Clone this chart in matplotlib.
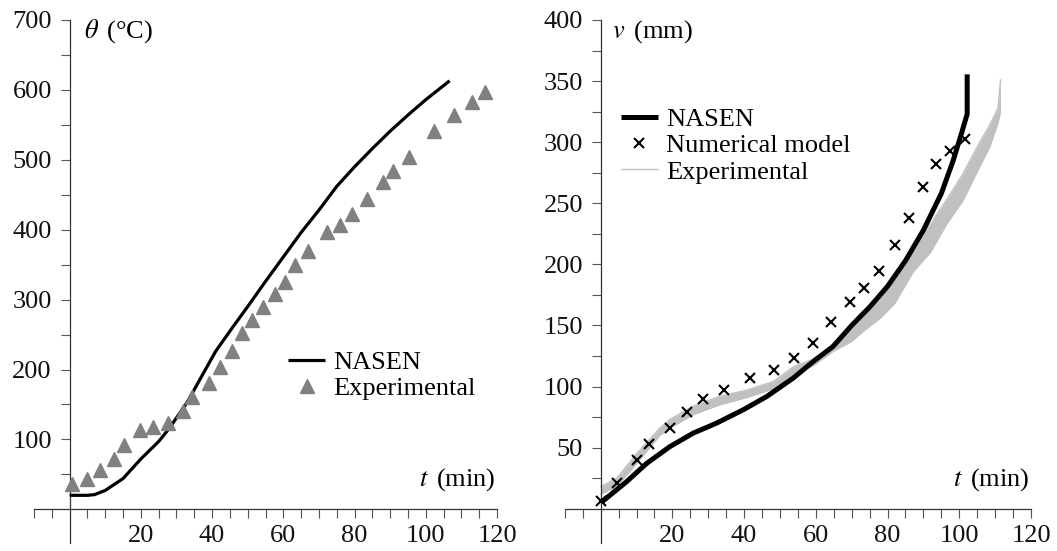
import matplotlib
matplotlib.use("Agg")
import matplotlib.pyplot as plt
from matplotlib.ticker import FixedLocator

plt.rcParams['font.family'] = ['Liberation Serif', 'DejaVu Serif']
plt.rcParams['mathtext.fontset'] = 'stix'

# ---------------- data: left panel (temperature) ----------------
nasen_t1 = [0, 5, 7, 10, 15, 20, 25, 28, 33, 36.5, 41, 46, 50, 55, 60, 65, 70, 75, 80, 85, 90, 95, 100, 106.7]
nasen_theta = [20, 20, 21, 27, 44, 72, 97, 116, 153, 185, 226, 262, 290, 326, 361, 396, 428, 462, 490,
               516, 541, 564, 586, 613]

exp_t1 = [0.8, 5.0, 8.5, 12.5, 15.2, 19.7, 23.4, 27.5, 31.7, 34.5, 39.1, 42.3, 45.5, 48.3, 51.1, 54.2,
          57.8, 60.6, 63.4, 66.8, 72.4, 75.9, 79.4, 83.4, 88.1, 90.9, 95.4, 102.2, 107.8, 113.0, 116.5]
exp_theta = [36, 43, 56, 72, 91.5, 114, 118, 124, 141, 160, 180, 203, 226, 252, 271, 290,
             308, 325, 349, 370, 396, 407, 423, 444, 468, 484, 504, 541, 564, 582, 597]

# ---------------- data: right panel (deflection) ----------------
nasen_t2 = [0.3, 7.2, 12.8, 19.3, 25.8, 32.3, 39.8, 46.3, 53.7, 59.3, 64.8, 70, 75, 80, 85, 90,
            95, 98.3, 100.6, 102.2, 102.2]
nasen_v = [5.5, 22, 37, 50.8, 61.8, 70, 81, 91.8, 106.9, 120.5, 132.8, 150, 165, 182, 203, 228,
           258, 285, 307, 323, 355.5]

num_t = [0, 4.5, 10.1, 13.5, 19.3, 24, 28.6, 34.5, 41.7, 48.3, 53.8, 59.1, 64.1, 69.4, 73.5, 77.5,
         82, 86, 90, 93.4, 97.4, 101.6]
num_v = [6, 21, 39.5, 53, 66.3, 79, 89.5, 97.5, 107, 113.4, 123.5, 135.5, 153, 169, 180.8, 194.7,
         216, 238, 263.5, 282.5, 292.6, 303]

band_t = [0, 4.5, 10, 16.5, 19.3, 25.8, 33.2, 40.7, 48.1, 53.7, 59.3, 64.8, 70, 74, 78, 82, 87.2,
          92, 96.5, 101, 105.7, 108.5, 110.8, 111.5]
band_lo = [12, 18, 37, 60, 66, 77, 85, 91, 98, 110, 117, 128.7, 137, 147, 156, 168, 194,
           210, 233, 252, 280, 296, 316, 325]
band_hi = [18, 25, 45, 66, 73, 84, 92, 97, 104, 116, 122.5, 134, 148, 162, 176, 190, 213,
           233, 253, 274, 300, 314, 328, 351]

x_major = [20, 40, 60, 80, 100, 120]

FS = 19
W, H = 1057, 551
fig = plt.figure(figsize=(W / 100, H / 100), dpi=100)
fig.patch.set_facecolor('white')

ax1 = fig.add_axes([34 / W, 8 / H, 463 / W, 523 / H])
ax2 = fig.add_axes([564.8 / W, 8 / H, 466.2 / W, 523 / H])


def style(ax, ylim, ymaj, ymin):
    ax.set_xlim(-10, 120)
    ax.set_ylim(*ylim)
    for s in ('top', 'right'):
        ax.spines[s].set_visible(False)
    ax.spines['left'].set_position(('data', 0))
    ax.spines['bottom'].set_position(('data', 0))
    for s in ('left', 'bottom'):
        ax.spines[s].set_color('#333333')
        ax.spines[s].set_linewidth(0.9)
    ax.xaxis.set_major_locator(FixedLocator(x_major))
    ax.xaxis.set_minor_locator(FixedLocator([v for v in range(-10, 121, 5) if v not in x_major and v != 0]))
    ax.yaxis.set_major_locator(FixedLocator(ymaj))
    ax.yaxis.set_minor_locator(FixedLocator(ymin))
    ax.tick_params(axis='both', which='both', direction='out', color='#555555', width=0.8,
                   labelsize=FS, labelcolor='#111111')
    ax.tick_params(axis='x', which='both', length=6.5, pad=5)
    ax.tick_params(axis='y', which='both', length=6.3, pad=6.5)
    ax.set_xticklabels([str(v) for v in x_major])
    ax.set_yticklabels([str(v) for v in ymaj])


style(ax1, (-48.2, 700), list(range(100, 701, 100)), list(range(50, 651, 100)))
style(ax2, (-28.1, 400), list(range(50, 401, 50)), list(range(25, 376, 50)))

# left panel
l1, = ax1.plot(nasen_t1, nasen_theta, color='black', lw=2.3, solid_capstyle='butt', label='NASEN', zorder=3)
l2, = ax1.plot(exp_t1, exp_theta, ls='none', marker='^', ms=9.5, color='#808080', mec='#808080',
               label='Experimental', zorder=4)
ax1.text(4.1, 684, r'$\theta\,$ (°C)', fontsize=FS, ha='left', va='center')
ax1.text(119.5, 42, r'$t\,$ (min)', fontsize=FS, ha='right', va='center')
ax1.legend(handles=[l1, l2], loc='center left', bbox_to_anchor=(288 / W, 1 - 375.4 / H),
           bbox_transform=fig.transFigure, frameon=False, fontsize=FS, borderpad=0, borderaxespad=0,
           handlelength=1.42, handletextpad=0.29, labelspacing=0.1, numpoints=1)

# right panel
band_col = '#c0c0c0'
ax2.fill_between(band_t, band_lo, band_hi, color=band_col, lw=0, zorder=1)
e1, = ax2.plot(band_t, band_lo, color=band_col, lw=1.0, label='Experimental', zorder=1)
ax2.plot(band_t, band_hi, color=band_col, lw=1.0, zorder=1)
n1, = ax2.plot(nasen_t2, nasen_v, color='black', lw=3.6, solid_capstyle='butt', label='NASEN', zorder=3)
m1, = ax2.plot(num_t, num_v, ls='none', marker='x', ms=7.5, mew=1.5, color='black',
               label='Numerical model', zorder=4)
ax2.text(3.1, 390.7, r'$v\,$ (mm)', fontsize=FS, ha='left', va='center')
ax2.text(119.6, 23.5, r'$t\,$ (min)', fontsize=FS, ha='right', va='center')
ax2.legend(handles=[n1, m1, e1], loc='center left', bbox_to_anchor=(620.7 / W, 1 - 145.7 / H),
           bbox_transform=fig.transFigure, frameon=False, fontsize=FS, borderpad=0, borderaxespad=0,
           handlelength=1.42, handletextpad=0.29, labelspacing=0.1, numpoints=1)

fig.savefig('out.png', dpi=100, facecolor='white')
